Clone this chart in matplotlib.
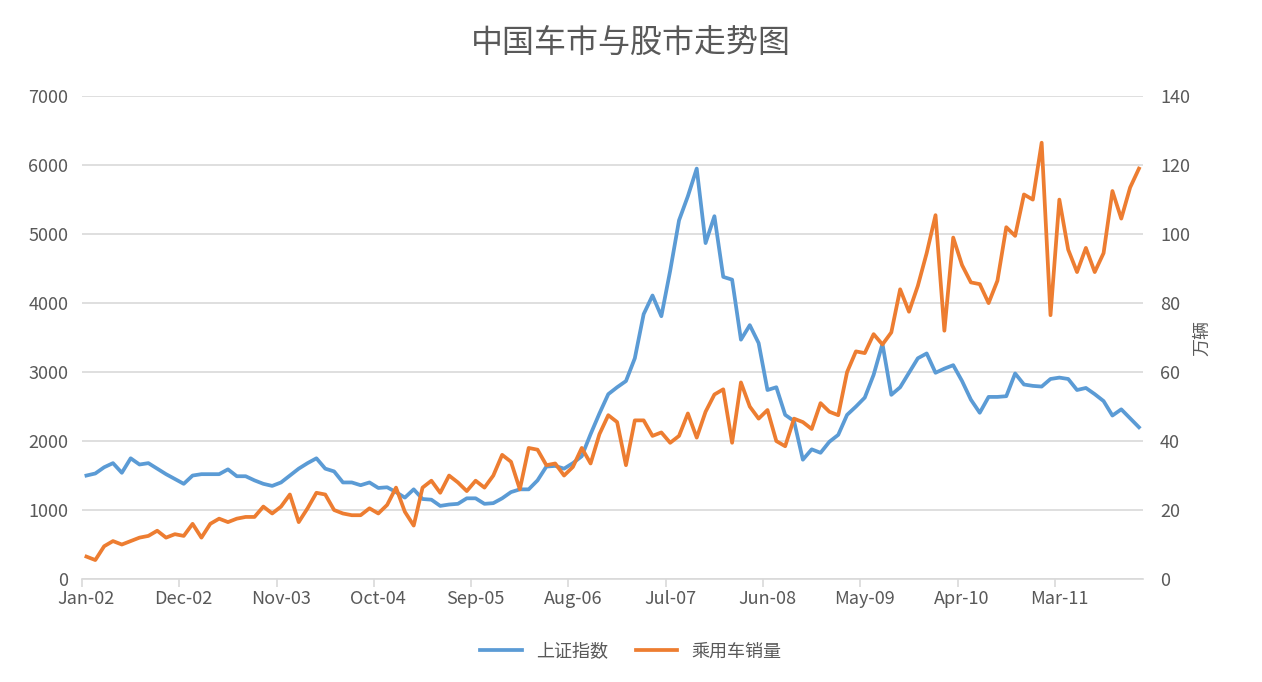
import numpy as np
import matplotlib
matplotlib.use('Agg')
import matplotlib.pyplot as plt

plt.rcParams['font.family'] = ['Noto Sans CJK JP', 'Noto Sans CJK SC', 'DejaVu Sans']

# 上证指数 (monthly, Jan-02 onward)
sh_index = [1500, 1530, 1620, 1680, 1540, 1750, 1660, 1680, 1600, 1520, 1450, 1380,
            1500, 1520, 1520, 1520, 1590, 1490, 1490, 1430, 1380, 1350, 1400, 1500,
            1600, 1680, 1750, 1600, 1560, 1400, 1400, 1360, 1400, 1320, 1330, 1260,
            1180, 1300, 1160, 1150, 1060, 1080, 1090, 1170, 1170, 1090, 1100, 1170,
            1260, 1300, 1300, 1430, 1630, 1640, 1600, 1680, 1780, 2100, 2400, 2680,
            2780, 2870, 3200, 3840, 4110, 3810, 4470, 5200, 5550, 5950, 4870, 5260,
            4380, 4340, 3470, 3680, 3420, 2740, 2780, 2380, 2290, 1730, 1880, 1830,
            1990, 2090, 2380, 2500, 2630, 2960, 3410, 2670, 2780, 2990, 3200, 3270,
            2990, 3050, 3100, 2870, 2600, 2410, 2640, 2640, 2650, 2980, 2820, 2800,
            2790, 2900, 2920, 2900, 2740, 2770, 2680, 2580, 2370, 2460, 2330, 2200]
# 乘用车销量 (万辆)
car_sales = [6.5, 5.5, 9.5, 11, 10, 11, 12, 12.5, 14, 12, 13, 12.5,
             16, 12, 16, 17.5, 16.5, 17.5, 18, 18, 21, 19, 21, 24.5,
             16.5, 20.5, 25, 24.5, 20, 19, 18.5, 18.5, 20.5, 19, 21.5, 26.5,
             19.5, 15.5, 26.5, 28.5, 25, 30, 28, 25.5, 28.5, 26.5, 30, 36,
             34, 26, 38, 37.5, 33, 33.5, 30, 32.5, 38, 33.5, 42, 47.5,
             45.5, 33, 46, 46, 41.5, 42.5, 39.5, 41.5, 48, 41, 48.5, 53.5,
             55, 39.5, 57, 50, 46.5, 49, 40, 38.5, 46.5, 45.5, 43.5, 51,
             48.5, 47.5, 60, 66, 65.5, 71, 68, 71.5, 84, 77.5, 85, 94.5,
             105.5, 72, 99, 91, 86, 85.5, 80, 86.5, 102, 99.5, 111.5, 110,
             126.5, 76.5, 110, 95.5, 89, 96, 89, 94.5, 112.5, 104.5, 113.5, 119]

tick_labels = ['Jan-02', 'Dec-02', 'Nov-03', 'Oct-04', 'Sep-05', 'Aug-06',
               'Jul-07', 'Jun-08', 'May-09', 'Apr-10', 'Mar-11']

n = max(len(sh_index), len(car_sales))
blue, orange = '#5B9BD5', '#ED7D31'

fig = plt.figure(figsize=(12.62, 6.82), dpi=100)
ax = fig.add_axes([0.065, 0.151, 0.841, 0.708])
ax2 = ax.twinx()

l1, = ax.plot(range(len(sh_index)), sh_index, color=blue, lw=2.7, label='上证指数')
l2, = ax2.plot(range(len(car_sales)), car_sales, color=orange, lw=2.7, label='乘用车销量')

ax.set_xlim(-0.5, n - 0.5)
ax.set_ylim(0, 7000)
ax2.set_ylim(0, 140)
ax.set_yticks(range(0, 7001, 1000))
ax2.set_yticks(range(0, 141, 20))
ax.grid(axis='y', color='#D9D9D9', lw=1.2)
ax.set_axisbelow(True)

ax.set_xticks(np.arange(-0.5, n, 11))
ax.set_xticklabels([])
ax.set_xticks(np.arange(0, 11 * len(tick_labels), 11), minor=True)
ax.set_xticklabels(tick_labels, minor=True)

for a in (ax, ax2):
    for s in a.spines.values():
        s.set_visible(False)
    a.tick_params(labelsize=13, labelcolor='#595959', length=0)
ax.tick_params(axis='x', which='major', length=6, color='#D9D9D9', width=1.2)
ax.tick_params(axis='x', which='minor', length=0, pad=8, labelsize=13, labelcolor='#595959')
ax.spines['bottom'].set_visible(True)
ax.spines['bottom'].set_color('#D9D9D9')
ax.spines['bottom'].set_linewidth(1.2)
ax.tick_params(axis='y', pad=10)
ax2.tick_params(axis='y', pad=12)

ax2.set_ylabel('万辆', fontsize=13, color='#595959', labelpad=2)

fig.text(0.5, 0.935, '中国车市与股市走势图', ha='center', va='center',
         fontsize=23, color='#595959')
fig.legend(handles=[l1, l2], loc='center', bbox_to_anchor=(0.5, 0.045), ncol=2,
           frameon=False, fontsize=13, labelcolor='#595959', handlelength=2.3,
           columnspacing=1.5)

fig.savefig('out.png', dpi=100)
